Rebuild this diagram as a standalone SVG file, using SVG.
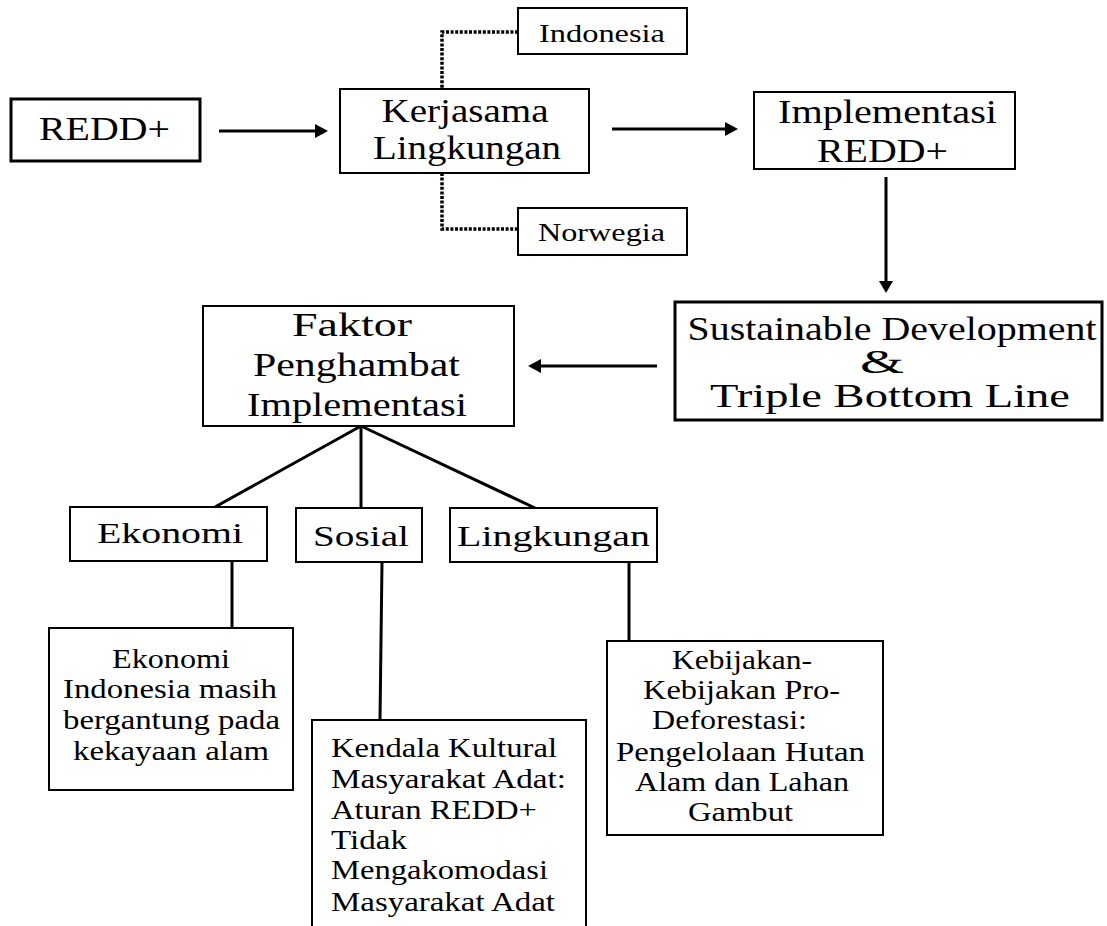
<svg xmlns="http://www.w3.org/2000/svg" width="1107" height="926" viewBox="0 0 1107 926">
<style>
text { font-family: "Liberation Serif", "Times New Roman", serif; fill: #000; text-anchor: middle; }
.box { fill: #fff; stroke: #000; stroke-width: 2; }
.thick { stroke-width: 3; }
.h { font-size: 33px; }
.s { font-size: 25px; }
.m { font-size: 30px; }
.d { font-size: 27px; }
.l { text-anchor: start; }
.con { fill: none; stroke: #000; stroke-width: 3; }
.dot { fill: none; stroke: #000; stroke-width: 3.5; stroke-dasharray: 3 1.6; }
.head { fill: #000; stroke: none; }
</style>
<rect width="1107" height="926" fill="#fff"/>
<g id="connectors">
  <line class="con" x1="219" y1="131" x2="318" y2="131"/>
  <polygon class="head" points="315,124 328,131 315,138"/>
  <line class="con" x1="612" y1="129" x2="728" y2="129"/>
  <polygon class="head" points="725,122 738,129 725,136"/>
  <line class="con" x1="886" y1="177" x2="886" y2="283"/>
  <polygon class="head" points="879,281 886,293 893,281"/>
  <line class="con" x1="657" y1="366" x2="538" y2="366"/>
  <polygon class="head" points="541,359 528,366 541,373"/>
  <path class="dot" d="M518,32 H442 V89"/>
  <path class="dot" d="M442,173 V229 H518"/>
  <line class="con" x1="361" y1="426" x2="215" y2="507"/>
  <line class="con" x1="361" y1="426" x2="361" y2="508"/>
  <line class="con" x1="361" y1="426" x2="535" y2="508"/>
  <line class="con" x1="232" y1="561" x2="232" y2="628"/>
  <line class="con" x1="382" y1="562" x2="380" y2="720"/>
  <line class="con" x1="629" y1="562" x2="629" y2="641"/>
</g>
<g id="redd">
  <rect class="box thick" x="11" y="99" width="189" height="62"/>
  <text class="h" x="104.5" y="140" textLength="131" lengthAdjust="spacingAndGlyphs">REDD+</text>
</g>
<g id="kerjasama">
  <rect class="box" x="340" y="89" width="249" height="84"/>
  <text class="h" x="465" y="122" textLength="167" lengthAdjust="spacingAndGlyphs">Kerjasama</text>
  <text class="h" x="467" y="159" textLength="188" lengthAdjust="spacingAndGlyphs">Lingkungan</text>
</g>
<g id="indonesia">
  <rect class="box" x="518" y="8" width="169" height="46"/>
  <text class="s" x="602" y="42" textLength="126" lengthAdjust="spacingAndGlyphs">Indonesia</text>
</g>
<g id="norwegia">
  <rect class="box" x="518" y="208" width="169" height="47"/>
  <text class="s" x="601.5" y="241" textLength="127" lengthAdjust="spacingAndGlyphs">Norwegia</text>
</g>
<g id="implementasi">
  <rect class="box" x="754" y="92" width="261" height="77"/>
  <text class="h" x="887.5" y="123" textLength="219" lengthAdjust="spacingAndGlyphs">Implementasi</text>
  <text class="h" x="882.5" y="162" textLength="131" lengthAdjust="spacingAndGlyphs">REDD+</text>
</g>
<g id="sustainable">
  <rect class="box thick" x="675" y="302" width="427" height="118"/>
  <text class="h" x="892" y="340" textLength="409" lengthAdjust="spacingAndGlyphs">Sustainable Development</text>
  <text class="h" x="882" y="373" textLength="44" lengthAdjust="spacingAndGlyphs">&amp;</text>
  <text class="h" x="890" y="407" textLength="360" lengthAdjust="spacingAndGlyphs">Triple Bottom Line</text>
</g>
<g id="faktor">
  <rect class="box" x="203" y="306" width="311" height="120"/>
  <text class="h" x="352" y="336" textLength="120" lengthAdjust="spacingAndGlyphs">Faktor</text>
  <text class="h" x="356.5" y="376" textLength="207" lengthAdjust="spacingAndGlyphs">Penghambat</text>
  <text class="h" x="357" y="416" textLength="220" lengthAdjust="spacingAndGlyphs">Implementasi</text>
</g>
<g id="ekonomi">
  <rect class="box" x="70" y="507" width="197" height="54"/>
  <text class="m" x="170" y="543" textLength="146" lengthAdjust="spacingAndGlyphs">Ekonomi</text>
</g>
<g id="sosial">
  <rect class="box" x="296" y="508" width="126" height="54"/>
  <text class="m" x="361" y="546" textLength="96" lengthAdjust="spacingAndGlyphs">Sosial</text>
</g>
<g id="lingkungan">
  <rect class="box" x="450" y="508" width="207" height="54"/>
  <text class="m" x="553.5" y="546" textLength="193" lengthAdjust="spacingAndGlyphs">Lingkungan</text>
</g>
<g id="ekonomi-desc">
  <rect class="box" x="49" y="628" width="244" height="162" stroke-width="2.5"/>
  <text class="d" x="171" y="668" textLength="118" lengthAdjust="spacingAndGlyphs">Ekonomi</text>
  <text class="d" x="170" y="698" textLength="214" lengthAdjust="spacingAndGlyphs">Indonesia masih</text>
  <text class="d" x="171.5" y="729" textLength="217" lengthAdjust="spacingAndGlyphs">bergantung pada</text>
  <text class="d" x="171" y="760" textLength="196" lengthAdjust="spacingAndGlyphs">kekayaan alam</text>
</g>
<g id="sosial-desc">
  <rect class="box" x="312" y="720" width="274" height="230" stroke-width="2.5"/>
  <text class="d l" x="331" y="757" textLength="226" lengthAdjust="spacingAndGlyphs">Kendala Kultural</text>
  <text class="d l" x="331" y="788" textLength="235" lengthAdjust="spacingAndGlyphs">Masyarakat Adat:</text>
  <text class="d l" x="331" y="819" textLength="206" lengthAdjust="spacingAndGlyphs">Aturan REDD+</text>
  <text class="d l" x="331" y="849" textLength="76" lengthAdjust="spacingAndGlyphs">Tidak</text>
  <text class="d l" x="331" y="879" textLength="217" lengthAdjust="spacingAndGlyphs">Mengakomodasi</text>
  <text class="d l" x="331" y="911" textLength="224" lengthAdjust="spacingAndGlyphs">Masyarakat Adat</text>
</g>
<g id="lingkungan-desc">
  <rect class="box" x="607" y="641" width="276" height="194" stroke-width="2.5"/>
  <text class="d" x="742" y="669" textLength="140" lengthAdjust="spacingAndGlyphs">Kebijakan-</text>
  <text class="d" x="741.5" y="699" textLength="197" lengthAdjust="spacingAndGlyphs">Kebijakan Pro-</text>
  <text class="d" x="729.5" y="729" textLength="155" lengthAdjust="spacingAndGlyphs">Deforestasi:</text>
  <text class="d" x="740.5" y="761" textLength="249" lengthAdjust="spacingAndGlyphs">Pengelolaan Hutan</text>
  <text class="d" x="742" y="791" textLength="214" lengthAdjust="spacingAndGlyphs">Alam dan Lahan</text>
  <text class="d" x="740.5" y="821" textLength="105" lengthAdjust="spacingAndGlyphs">Gambut</text>
</g>
</svg>
